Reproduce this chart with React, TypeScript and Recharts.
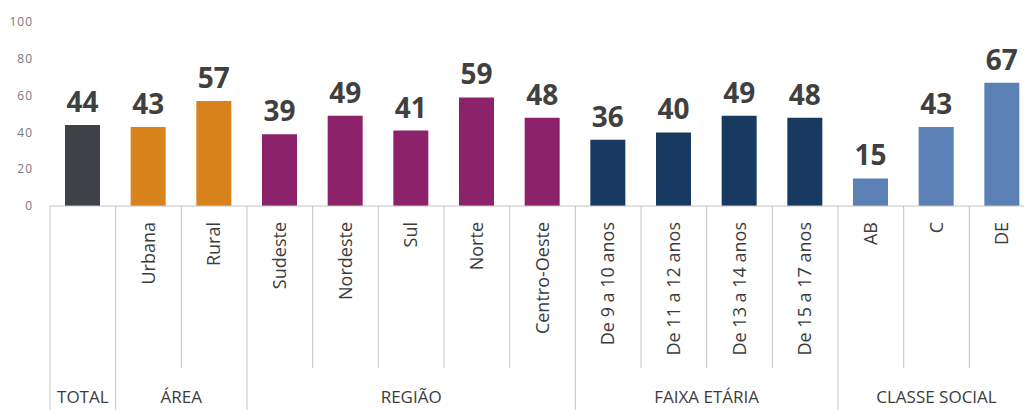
import React from "react";
import { BarChart, Bar, XAxis, YAxis, Cell, LabelList } from "recharts";

const categories = ["TOTAL", "Urbana", "Rural", "Sudeste", "Nordeste", "Sul", "Norte", "Centro-Oeste", "De 9 a 10 anos", "De 11 a 12 anos", "De 13 a 14 anos", "De 15 a 17 anos", "AB", "C", "DE"];
const tickLabels = ["", "Urbana", "Rural", "Sudeste", "Nordeste", "Sul", "Norte", "Centro-Oeste", "De 9 a 10 anos", "De 11 a 12 anos", "De 13 a 14 anos", "De 15 a 17 anos", "AB", "C", "DE"];
const values = [44, 43, 57, 39, 49, 41, 59, 48, 36, 40, 49, 48, 15, 43, 67];
const groups = ["TOTAL", "ÁREA", "ÁREA", "REGIÃO", "REGIÃO", "REGIÃO", "REGIÃO", "REGIÃO", "FAIXA ETÁRIA", "FAIXA ETÁRIA", "FAIXA ETÁRIA", "FAIXA ETÁRIA", "CLASSE SOCIAL", "CLASSE SOCIAL", "CLASSE SOCIAL"];
const groupColors: Record<string, string> = {
  "TOTAL": "#404049",
  "ÁREA": "#d8831b",
  "REGIÃO": "#8b226a",
  "FAIXA ETÁRIA": "#183a61",
  "CLASSE SOCIAL": "#5a80b6",
};
const yTicks = [0, 20, 40, 60, 80, 100];

const data = categories.map((c, i) => ({ category: c, value: values[i], group: groups[i] }));

const CHART_W = 1035;
const CHART_H = 410;
const Y_W = 50;
const TOP = 22;
const X_H = 204;
const PLOT_W = CHART_W - Y_W;
const FONT = "'Open Sans', 'DejaVu Sans', sans-serif";
const LINE = "#c4c4c4";
const TEXT = "#3c3c3c";

const CategoryTick = (props: any) => {
  const { x, y, payload } = props;
  const i = payload.index;
  const n = categories.length;
  const w = PLOT_W / n;
  const left = x - w / 2;
  const isGroupStart = i === 0 || groups[i] !== groups[i - 1];
  let groupCount = 0;
  if (isGroupStart) {
    for (let k = i; k < n && groups[k] === groups[i]; k++) groupCount++;
  }
  return (
    <g>
      <line x1={left} y1={y} x2={left} y2={y + (isGroupStart ? X_H : 162)} stroke={LINE} strokeWidth={1} />
      {tickLabels[i] ? (
        <text
          x={x + 6}
          y={y + 16}
          transform={`rotate(-90, ${x + 6}, ${y + 16})`}
          textAnchor="end"
          fontSize={18}
          fontFamily={FONT}
          fill={TEXT}
        >
          {tickLabels[i]}
        </text>
      ) : null}
      {isGroupStart ? (
        <text
          x={left + (groupCount * w) / 2}
          y={y + 197}
          textAnchor="middle"
          fontSize={17}
          fontFamily={FONT}
          fill={TEXT}
        >
          {groups[i]}
        </text>
      ) : null}
    </g>
  );
};

const ValueLabel = (props: any) => {
  const { x, y, width, value } = props;
  return (
    <text
      x={x + width / 2}
      y={y - 13}
      textAnchor="middle"
      fontSize={28}
      fontWeight={700}
      fontFamily={FONT}
      fill="#404040"
    >
      {value}
    </text>
  );
};

export default function App() {
  return (
    <div
      style={{
        position: "fixed",
        left: 0,
        top: 0,
        width: 1024,
        height: 410,
        overflow: "hidden",
        background: "#ffffff",
      }}
    >
      <BarChart
        width={CHART_W}
        height={CHART_H}
        data={data}
        margin={{ top: TOP, right: 0, left: 0, bottom: 0 }}
        barCategoryGap={0}
      >
        <YAxis
          width={Y_W}
          domain={[0, 100]}
          ticks={yTicks}
          axisLine={false}
          tickLine={false}
          tickMargin={11}
          tick={{ fontSize: 12, fill: "#7a7a7a", fontFamily: FONT, letterSpacing: 1 }}
        />
        <XAxis
          dataKey="category"
          height={X_H}
          interval={0}
          tickLine={false}
          tickSize={0}
          tickMargin={0}
          axisLine={{ stroke: LINE }}
          tick={<CategoryTick />}
        />
        <Bar dataKey="value" barSize={35} isAnimationActive={false}>
          {data.map((d, i) => (
            <Cell key={i} fill={groupColors[d.group]} />
          ))}
          <LabelList dataKey="value" content={<ValueLabel />} />
        </Bar>
      </BarChart>
    </div>
  );
}
